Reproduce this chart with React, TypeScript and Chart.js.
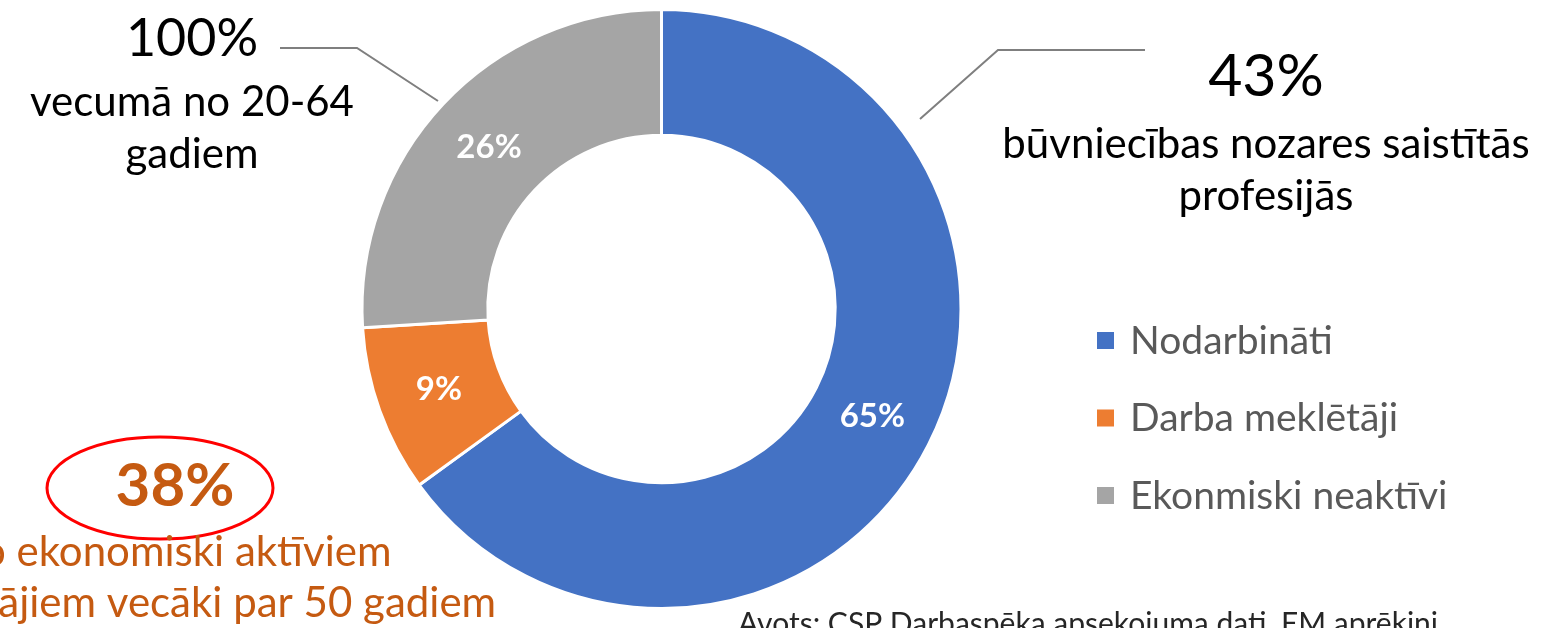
import React, { useEffect, useRef } from "react";
import { Chart, registerables } from "chart.js";

Chart.register(...registerables);

const categories = ["Nodarbināti", "Darba meklētāji", "Ekonmiski neaktīvi"];
const shares = [65, 9, 26];
const colors = ["#4472C4", "#ED7D31", "#A5A5A5"];

const leftTitle = "100%";
const leftLines = ["vecumā no 20-64", "gadiem"];
const rightTitle = "43%";
const rightLines = ["būvniecības nozares saistītās", "profesijās"];
const bottomTitle = "38%";
const bottomLines = ["no ekonomiski aktīviem", "iedzīvotājiem vecāki par 50 gadiem"];
const sourceText = "Avots: CSP Darbaspēka apsekojuma dati, EM aprēķini";

const FONT = "Lato, 'Open Sans', sans-serif";

const annotations = {
  id: "annotations",
  afterDraw(chart: any) {
    const ctx = chart.ctx as CanvasRenderingContext2D;
    ctx.save();
    // arc value labels
    const meta = chart.getDatasetMeta(0);
    ctx.fillStyle = "#ffffff";
    ctx.font = `bold 33px ${FONT}`;
    ctx.textAlign = "center";
    ctx.textBaseline = "middle";
    meta.data.forEach((arc: any, i: number) => {
      const p = arc.tooltipPosition();
      ctx.fillText(`${chart.data.datasets[0].data[i]}%`, p.x, p.y);
    });

    // legend
    const lx = 1097;
    const ly0 = 340;
    const lstep = 77.5;
    ctx.textAlign = "left";
    ctx.font = `39px ${FONT}`;
    chart.data.labels.forEach((lab: string, i: number) => {
      const y = ly0 + i * lstep;
      ctx.fillStyle = colors[i];
      ctx.fillRect(lx, y - 8, 17, 17);
      ctx.fillStyle = "#595959";
      ctx.fillText(lab, 1130, y + 1);
    });

    // leader lines
    ctx.strokeStyle = "#7F7F7F";
    ctx.lineWidth = 2;
    ctx.beginPath();
    ctx.moveTo(280, 48);
    ctx.lineTo(357, 48);
    ctx.lineTo(438, 101);
    ctx.stroke();
    ctx.beginPath();
    ctx.moveTo(920, 119);
    ctx.lineTo(998, 50);
    ctx.lineTo(1145, 50);
    ctx.stroke();

    // left text block
    ctx.textAlign = "center";
    ctx.textBaseline = "alphabetic";
    ctx.fillStyle = "#000000";
    ctx.font = `52px ${FONT}`;
    ctx.fillText(leftTitle, 192, 56);
    ctx.font = `42px ${FONT}`;
    ctx.fillText(leftLines[0], 192, 116);
    ctx.fillText(leftLines[1], 192, 168);

    // right text block
    ctx.font = `59px ${FONT}`;
    ctx.fillText(rightTitle, 1266, 96);
    ctx.font = `42px ${FONT}`;
    ctx.fillText(rightLines[0], 1266, 158);
    ctx.fillText(rightLines[1], 1266, 210);

    // bottom-left block
    ctx.strokeStyle = "#FF0000";
    ctx.lineWidth = 3;
    ctx.beginPath();
    ctx.ellipse(160, 488, 113, 51, 0, 0, Math.PI * 2);
    ctx.stroke();
    ctx.fillStyle = "#C55A11";
    ctx.font = `bold 60px ${FONT}`;
    ctx.fillText(bottomTitle, 175, 506);
    ctx.font = `42px ${FONT}`;
    ctx.fillText(bottomLines[0], 175, 566);
    ctx.fillText(bottomLines[1], 175, 617);

    // source
    ctx.fillStyle = "#262626";
    ctx.textAlign = "left";
    ctx.font = `30px ${FONT}`;
    ctx.fillText(sourceText, 738, 634);
    ctx.restore();
  },
};

export default function App() {
  const ref = useRef<HTMLCanvasElement | null>(null);
  useEffect(() => {
    if (!ref.current) return;
    const chart = new Chart(ref.current, {
      type: "doughnut",
      data: {
        labels: categories,
        datasets: [
          {
            data: shares,
            backgroundColor: colors,
            borderColor: "#ffffff",
            borderWidth: 3,
          },
        ],
      },
      options: {
        responsive: false,
        animation: false,
        cutout: "58%",
        layout: { padding: { left: 360, right: 604, top: 8, bottom: 18 } },
        plugins: {
          legend: { display: false },
          tooltip: { enabled: false },
        },
      },
      plugins: [annotations],
    });
    return () => chart.destroy();
  }, []);
  return (
    <div style={{ position: "fixed", left: 0, top: 0, width: 1567, height: 628, background: "#fff" }}>
      <canvas ref={ref} width={1567} height={628} style={{ width: 1567, height: 628 }} />
    </div>
  );
}
